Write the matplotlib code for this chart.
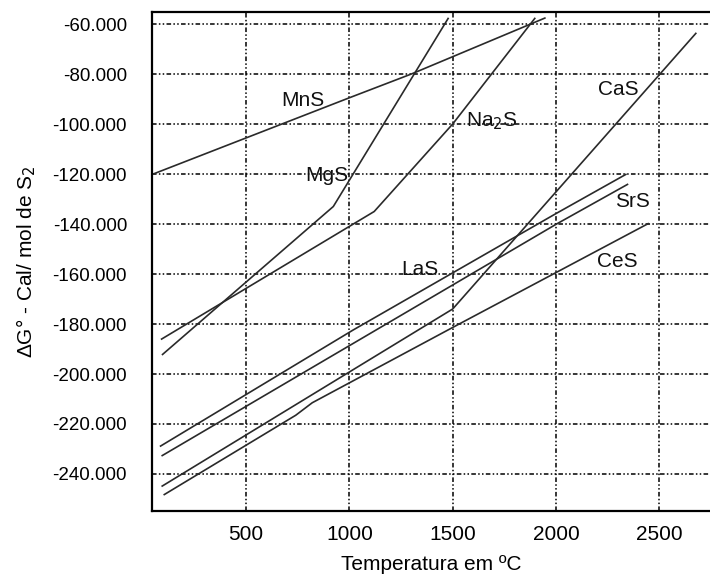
import matplotlib
matplotlib.use("Agg")
import matplotlib.pyplot as plt
from matplotlib.ticker import FuncFormatter, FixedLocator

plt.rcParams['font.family'] = ['Liberation Sans', 'DejaVu Sans']

# Data (temperature in ºC, ΔG° in cal/mol S2)
mns_t = [50, 1000, 1300, 1950]
mns_g = [-120000, -89500, -80000, -57500]

mgs_t = [92, 922, 1480]
mgs_g = [-192400, -133000, -57500]

na2s_t = [87, 1120, 1500, 1900]
na2s_g = [-186200, -135000, -100000, -57500]

cas_t = [90, 1500, 2680]
cas_g = [-245000, -174000, -63500]

las_t = [82, 1018, 2003, 2342]
las_g = [-229000, -182400, -135700, -120000]

srs_t = [90, 2003, 2350]
srs_g = [-232800, -140000, -124000]

ces_t = [100, 740, 820, 1520, 2450]
ces_g = [-248400, -216500, -211500, -180500, -139700]

labels = ["MnS", "MgS", "Na$_2$S", "CaS", "SrS", "CeS", "LaS"]
label_t = [775, 891, 1690, 2300, 2373, 2295, 1341]
label_g = [-90400, -120400, -98800, -86000, -131000, -155000, -158000]

xticks = [500, 1000, 1500, 2000, 2500]
yticks = [-60000, -80000, -100000, -120000, -140000, -160000,
          -180000, -200000, -220000, -240000]

W, H = 710, 578
fig = plt.figure(figsize=(W / 100, H / 100), dpi=100)
ax = fig.add_axes([152 / W, (H - 511) / H, (710 - 152) / W, (511 - 12) / H])

line_kw = dict(color='#2a2a2a', lw=1.2, solid_capstyle='butt')
for t, g in [(mns_t, mns_g), (mgs_t, mgs_g), (na2s_t, na2s_g), (cas_t, cas_g),
             (las_t, las_g), (srs_t, srs_g), (ces_t, ces_g)]:
    ax.plot(t, g, **line_kw)

for lab, t, g in zip(labels, label_t, label_g):
    ax.text(t, g, lab, fontsize=15, ha='center', va='center', color='#111')

ax.set_xlim(44, 2746)
ax.set_ylim(-254800, -55200)
ax.xaxis.set_major_locator(FixedLocator(xticks))
ax.yaxis.set_major_locator(FixedLocator(yticks))
ax.yaxis.set_major_formatter(FuncFormatter(lambda v, p: f"{int(v):,}".replace(",", ".")))

ax.grid(True, color='black', lw=1.1, linestyle=(0, (3, 1.5, 1, 1.5, 1, 1.5)))
ax.tick_params(axis='both', length=0)
ax.tick_params(axis='y', labelsize=13.5, pad=18)
ax.tick_params(axis='x', labelsize=15, pad=10)

for s in ['left', 'bottom', 'top']:
    ax.spines[s].set_linewidth(1.6)
    ax.spines[s].set_color('black')
ax.spines['right'].set_visible(False)

ax.set_xlabel("Temperatura em ºC", fontsize=15, labelpad=8)
ax.set_ylabel("ΔG° - Cal/ mol de S$_2$", fontsize=15, labelpad=10)

fig.savefig("out.png", dpi=100)
